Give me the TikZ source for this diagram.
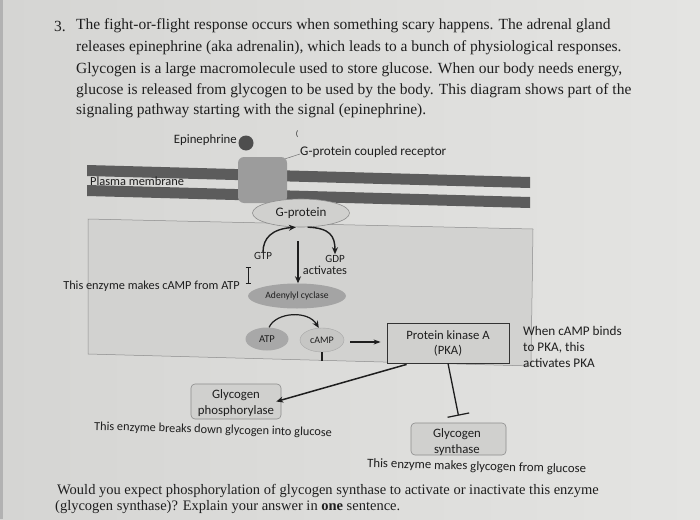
\documentclass[tikz,border=0pt]{standalone}
\usepackage{fontspec}
\setmainfont{Liberation Serif}
\newfontfamily\calfont{Carlito}
\usetikzlibrary{arrows.meta,shapes.geometric}
\definecolor{bgL}{HTML}{D5D5D3}
\definecolor{bgR}{HTML}{E4E4E2}
\definecolor{txt}{HTML}{1E1E1E}
\definecolor{cyto}{HTML}{D2D2D0}
\definecolor{edge}{HTML}{8C8C8C}
\definecolor{memb}{HTML}{5C5C5C}
\definecolor{recg}{HTML}{9C9C9C}
\definecolor{epic}{HTML}{4E4E4E}
\definecolor{gpf}{HTML}{D0D0CE}
\definecolor{acf}{HTML}{A4A4A4}
\definecolor{atpf}{HTML}{A8A8A8}
\definecolor{campf}{HTML}{C6C6C4}
\definecolor{boxf}{HTML}{D0D0CE}
\begin{document}
\begin{tikzpicture}[x=1pt,y=-1pt,
  para/.style={anchor=west, inner sep=0pt, text=txt, font=\fontsize{15.5}{18}\selectfont},
  quest/.style={anchor=west, inner sep=0pt, text=txt, font=\fontsize{14.5}{17}\selectfont},
  lbl/.style={inner sep=0pt, text=txt, font=\calfont\fontsize{12.8}{16}\selectfont},
  small/.style={inner sep=0pt, text=txt, font=\calfont\fontsize{11}{12}\selectfont},
  oval/.style={ellipse, inner sep=0pt},
  enzbox/.style={draw=edge, line width=0.6pt, fill=boxf, rounded corners=4pt, inner sep=0pt},
  arr/.style={-{Stealth[length=7pt,width=6pt]}, line width=1.4pt, draw=txt},
  thinline/.style={line width=1.3pt, draw=txt}]
\useasboundingbox (0,0) rectangle (700,519);
\shade[left color=bgL, right color=bgR] (0,0) rectangle (700,519);
\fill[black!30] (0,0) rectangle (3,519);

% paragraph
\node[para] (n3) at (54,26) {3.};
\node[para] (p1) at (76,26) {The fight-or-flight response occurs when something scary happens. The adrenal gland};
\node[para] (p2) at (76,48) {releases epinephrine (aka adrenalin), which leads to a bunch of physiological responses.};
\node[para] (p3) at (76,69.5) {Glycogen is a large macromolecule used to store glucose. When our body needs energy,};
\node[para] (p4) at (76,91) {glucose is released from glycogen to be used by the body. This diagram shows part of the};
\node[para] (p5) at (76,111) {signaling pathway starting with the signal (epinephrine).};

% cytoplasm panel
\draw[fill=cyto, draw=edge, line width=0.5pt] (88,219) -- (533,229) -- (531,366) -- (88,354) -- cycle;

% membrane
\fill[memb] (87,165) -- (530,177) -- (530,188) -- (87,176) -- cycle;
\fill[memb] (87,185) -- (530,197) -- (530,208) -- (87,196) -- cycle;
\node[lbl, anchor=west, font=\calfont\fontsize{12.4}{14}\selectfont] (pm) at (90,181) {Plasma membrane};

% receptor and ligand
\node[fill=recg, rounded corners=6pt, minimum width=49pt, minimum height=46pt, inner sep=0pt] (rec) at (262.5,180) {};
\node[circle, fill=epic, minimum size=15pt, inner sep=0pt] (epi) at (246,143) {};
\node[lbl, anchor=east] (epil) at (237,140) {Epinephrine};
\node[lbl, anchor=west, font=\calfont\fontsize{13.2}{15}\selectfont] (gpcr) at (300,152) {G-protein coupled receptor};
\node[inner sep=0pt, text=txt, font=\calfont\fontsize{8}{8}\selectfont] (mark) at (297,134) {(};
\draw[black!55, line width=0.5pt] ([shift={(-2,2)}]rec.north east) -- ([shift={(0,2)}]gpcr.west);

% G-protein
\node[oval, draw=edge, line width=0.6pt, fill=gpf, minimum width=97pt, minimum height=28pt, font=\calfont\fontsize{13}{14}\selectfont, text=txt] (gp) at (301,213) {G-protein};

\node[small] (gtp) at (263,256) {GTP};
\node[small] (gdp) at (335,259) {GDP};
\node[lbl, font=\calfont\fontsize{12.3}{14}\selectfont] (act) at (325,270) {activates};
\draw[arr] (gtp.north) .. controls (263,238) and (272,229) .. (gp.250);
\draw[arr, shorten >=1pt] (gp.295) .. controls (330,228) and (335,236) .. (gdp.north);

% adenylyl cyclase
\node[oval, fill=acf, minimum width=98pt, minimum height=25pt, font=\calfont\fontsize{9.6}{10}\selectfont, text=txt] (ac) at (297,296) {Adenylyl cyclase};
\coordinate (actop) at (298,241);
\draw[arr] (actop) -- (ac.north -| actop);
\node[lbl, anchor=east, font=\calfont\fontsize{12.3}{14}\selectfont] (acl) at (240,286) {This enzyme makes cAMP from ATP};
% cursor
\draw[txt, line width=0.6pt] (248,267) -- (248,283) (245.5,267) -- (250.5,267) (245.5,283) -- (250.5,283);

% ATP / cAMP
\node[oval, fill=atpf, minimum width=43pt, minimum height=23pt, font=\calfont\fontsize{10.5}{11}\selectfont, text=txt] (atp) at (267,339) {ATP};
\node[oval, fill=campf, draw=black!35, line width=0.4pt, minimum width=44pt, minimum height=24pt, font=\calfont\fontsize{10}{11}\selectfont, text=txt] (camp) at (322,340) {cAMP};
\draw[arr, line width=1.2pt] (atp.80) .. controls (276,312) and (308,310) .. (camp.105);
\draw[thinline] (camp.south) -- ++(0,9);

% PKA
\node[draw=black!80, line width=0.8pt, fill=boxf, minimum width=122pt, minimum height=40pt, align=center, inner sep=0pt, text=txt, font=\calfont\fontsize{12.7}{15}\selectfont] (pka) at (448,343) {Protein kinase A\\(PKA)};
\draw[-{Stealth[length=7pt,width=5pt]}, line width=1.1pt, draw=txt] ([shift={(6,2)}]camp.east) -- ([shift={(-6,-1)}]pka.west);
\node[lbl, anchor=north west, align=left, font=\calfont\fontsize{13.2}{16}\selectfont] (pkal) at (523,326) {When cAMP binds\\to PKA, this\\activates PKA};

% glycogen phosphorylase
\node[enzbox, minimum width=90pt, minimum height=35pt] (gph) at (236,401.5) {};
\node[lbl, align=center] (gphl) at (236,403) {Glycogen\\phosphorylase};
\node[lbl, anchor=west, rotate=-1.5, font=\calfont\fontsize{12.3}{14}\selectfont] (gphd) at (94,427) {This enzyme breaks down glycogen into glucose};
\draw[arr, line width=1.5pt] ([shift={(20,1)}]pka.south west) -- ([shift={(-5,0)}]gph.east);

% glycogen synthase
\node[enzbox, minimum width=95pt, minimum height=32pt] (gs) at (458.5,439) {};
\node[lbl, align=center] (gsl) at (457,442) {Glycogen\\synthase};
\node[lbl, anchor=west, rotate=-1.5, font=\calfont\fontsize{12.8}{14}\selectfont] (gsd) at (367,464) {This enzyme makes glycogen from glucose};
\draw[-{Bar[width=22pt,line width=1.2pt]}, line width=1.3pt, draw=txt] (pka.south) -- ([shift={(0,-7)}]gs.north);

% question
\node[quest] (q1) at (57,491) {Would you expect phosphorylation of glycogen synthase to activate or inactivate this enzyme};
\node[quest] (q2) at (55,507.5) {(glycogen synthase)? Explain your answer in \textbf{one} sentence.};
\end{tikzpicture}
\end{document}
